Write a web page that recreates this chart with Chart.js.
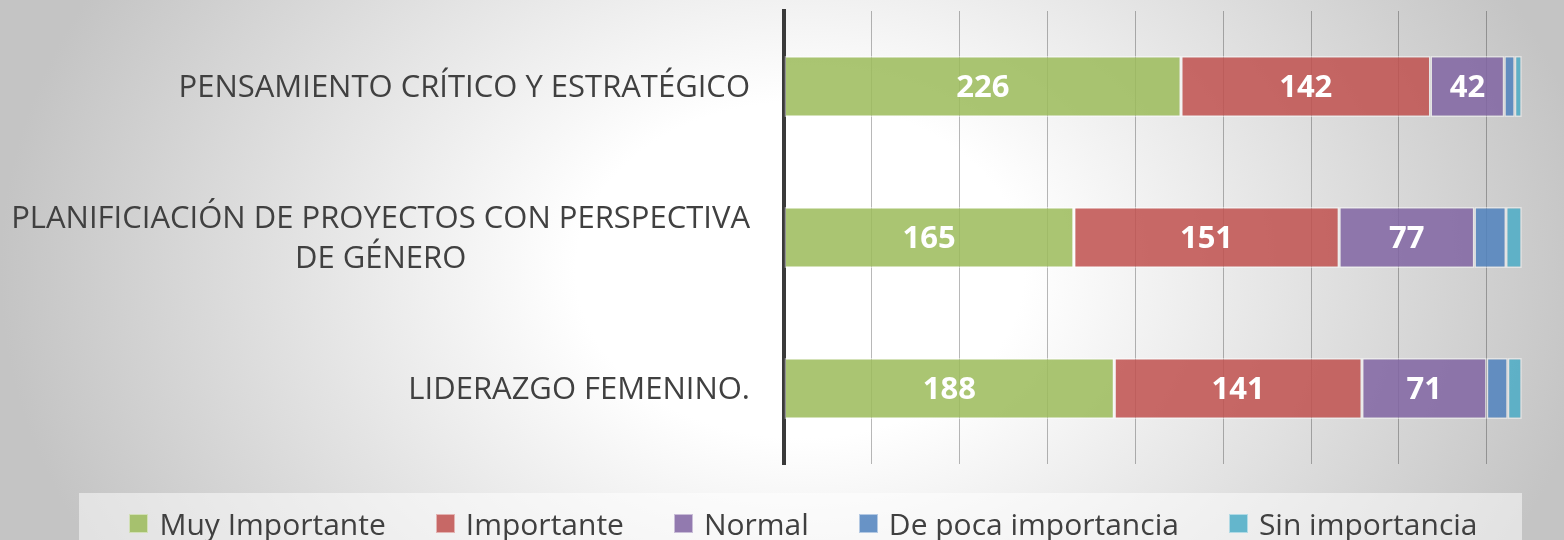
<!DOCTYPE html>
<html lang="es">
<head>
<meta charset="utf-8">
<title>Importancia de temas</title>
<script src="https://cdn.jsdelivr.net/npm/chart.js@4"></script>
<style>
    html, body {
        margin: 0;
        padding: 0;
        overflow: hidden;
        width: 1564px;
        height: 540px;
    }
    body {
        position: relative;
        background: radial-gradient(ellipse 800px 600px at 800px 270px, #ffffff 0%, #ffffff 28%, #c4c4c4 100%);
        font-family: "Open Sans", sans-serif;
    }
    #chart {
        position: absolute;
        left: 0;
        top: 0;
    }
    #legend {
        position: absolute;
        left: 79px;
        top: 493px;
        width: 1443px;
        height: 60px;
        box-sizing: border-box;
        padding-left: 6px;
        background: rgba(255, 255, 255, 0.5);
        display: flex;
        justify-content: center;
        align-items: center;
        gap: 50px;
        color: #404040;
        font-size: 30px;
    }
    #legend .item {
        display: flex;
        align-items: center;
        white-space: nowrap;
    }
    #legend .box {
        width: 19px;
        height: 19px;
        box-sizing: border-box;
        border: 1px solid rgba(255, 255, 255, 0.5);
        margin-right: 11px;
    }
</style>
</head>
<body>
<canvas id="chart" width="1564" height="540"></canvas>
<div id="legend"></div>
<script>
// Categories and series values
const categories = [
    "PENSAMIENTO CRÍTICO Y ESTRATÉGICO",
    ["PLANIFICIACIÓN DE PROYECTOS CON PERSPECTIVA", "DE GÉNERO"],
    "LIDERAZGO FEMENINO.",
];
const seriesNames = ["Muy Importante", "Importante", "Normal", "De poca importancia", "Sin importancia"];
const muyImportante = [226, 165, 188];
const importante = [142, 151, 141];
const normal = [42, 77, 71];
const pocaImportancia = [6, 18, 12];
const sinImportancia = [4, 9, 8];
const gridTicks = [0, 50, 100, 150, 200, 250, 300, 350, 400];

const colors = [
    "rgba(155, 187, 89, 0.85)",
    "rgba(192, 80, 77, 0.85)",
    "rgba(128, 100, 162, 0.85)",
    "rgba(79, 129, 189, 0.85)",
    "rgba(75, 172, 198, 0.85)",
];

const seriesValues = [muyImportante, importante, normal, pocaImportancia, sinImportancia];

// Draw the white numbers in the middle of the big segments
const barLabels = {
    id: "barLabels",
    afterDatasetsDraw(chart) {
        const ctx = chart.ctx;
        ctx.save();
        ctx.font = "bold 31px 'Open Sans'";
        ctx.fillStyle = "#ffffff";
        ctx.textAlign = "center";
        ctx.textBaseline = "middle";
        chart.data.datasets.forEach((ds, i) => {
            const meta = chart.getDatasetMeta(i);
            meta.data.forEach((bar, j) => {
                const value = ds.data[j];
                if (value < 30) return;
                const p = bar.getProps(["x", "base", "y"], true);
                ctx.fillText(String(value), (p.x + p.base) / 2, p.y + 2);
            });
        });
        ctx.restore();
    },
};

// Category labels: block right aligned, lines centred inside the block
const categoryLabels = {
    id: "categoryLabels",
    afterDraw(chart) {
        const ctx = chart.ctx;
        const yScale = chart.scales.y;
        const right = yScale.right - 34;
        const lineHeight = 40;
        ctx.save();
        ctx.font = "31px 'Open Sans'";
        ctx.fillStyle = "#404040";
        ctx.textAlign = "center";
        ctx.textBaseline = "middle";
        chart.data.labels.forEach((label, i) => {
            const lines = Array.isArray(label) ? label : [label];
            const widest = Math.max(...lines.map((l) => ctx.measureText(l).width));
            const cx = right - widest / 2;
            const y = yScale.getPixelForTick(i);
            lines.forEach((line, k) => {
                ctx.fillText(line, cx, y + (k - (lines.length - 1) / 2) * lineHeight + 2);
            });
        });
        ctx.restore();
    },
};

const chart = new Chart(document.getElementById("chart").getContext("2d"), {
    type: "bar",
    data: {
        labels: categories,
        datasets: seriesValues.map((values, i) => ({
            label: seriesNames[i],
            data: values,
            backgroundColor: colors[i],
            borderColor: "rgba(255, 255, 255, 0.45)",
            borderWidth: 1.5,
            borderSkipped: false,
            categoryPercentage: 1,
            barPercentage: 0.403,
        })),
    },
    options: {
        indexAxis: "y",
        responsive: false,
        animation: false,
        layout: {
            padding: { top: 11, bottom: 76, left: 0, right: 0 },
        },
        scales: {
            x: {
                stacked: true,
                min: 0,
                max: 444,
                ticks: { display: false, stepSize: 50 },
                afterBuildTicks(scale) {
                    scale.ticks = gridTicks.map((v) => ({ value: v }));
                },
                afterFit(scale) {
                    scale.height = 0;
                },
                grid: {
                    color: "rgba(0, 0, 0, 0.28)",
                    lineWidth: 1,
                    drawTicks: false,
                },
                border: { display: false },
            },
            y: {
                stacked: true,
                z: 1,
                ticks: { display: false },
                afterFit(scale) {
                    scale.width = 784;
                },
                grid: { display: false, drawTicks: false },
                border: { display: true, color: "#3a3a3a", width: 4 },
            },
        },
        plugins: {
            legend: { display: false },
            tooltip: { enabled: false },
        },
    },
    plugins: [barLabels, categoryLabels],
});

// HTML legend built from the chart datasets
const legendEl = document.getElementById("legend");
chart.data.datasets.forEach((ds) => {
    const item = document.createElement("div");
    item.className = "item";
    const box = document.createElement("span");
    box.className = "box";
    box.style.background = ds.backgroundColor;
    const text = document.createElement("span");
    text.textContent = ds.label;
    item.appendChild(box);
    item.appendChild(text);
    legendEl.appendChild(item);
});
</script>
</body>
</html>
